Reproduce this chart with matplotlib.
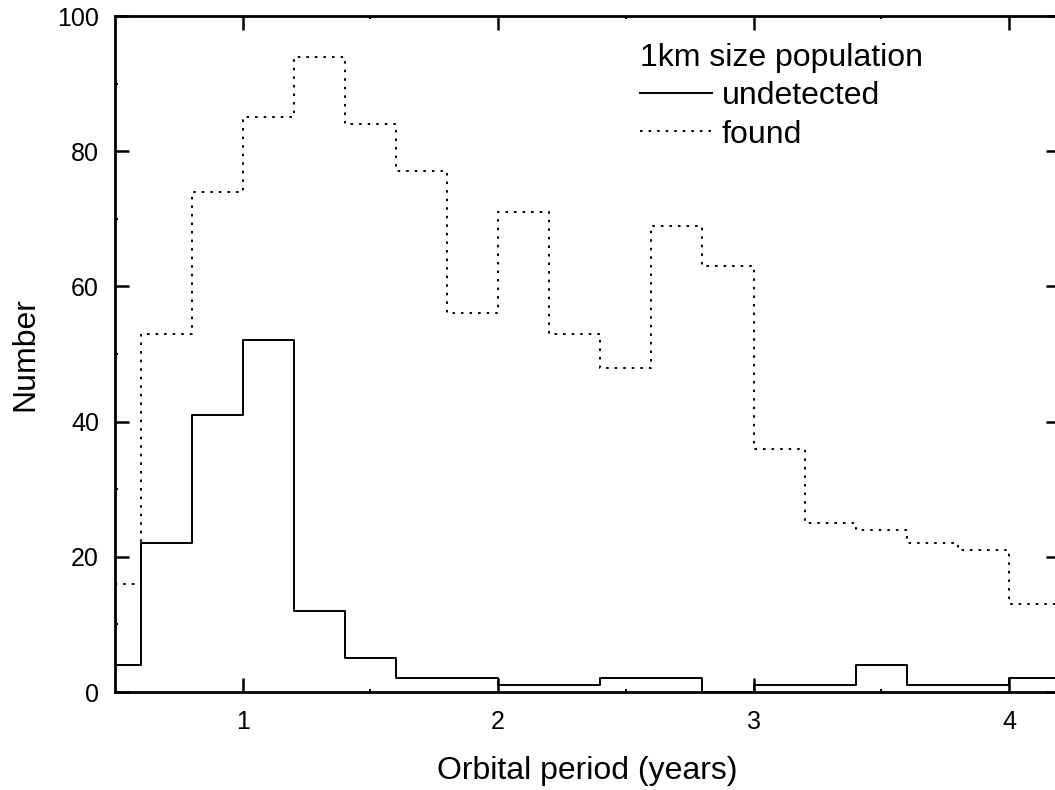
import numpy as np
import matplotlib
matplotlib.use('Agg')
import matplotlib.pyplot as plt

plt.rcParams['font.family'] = ['Liberation Sans', 'DejaVu Sans']

# histogram bin edges (years) and counts per bin
edges = [0.4, 0.6, 0.8, 1.0, 1.2, 1.4, 1.6, 1.8, 2.0, 2.2, 2.4,
         2.6, 2.8, 3.0, 3.2, 3.4, 3.6, 3.8, 4.0, 4.2]
undetected = [4, 22, 41, 52, 12, 5, 2, 2, 1, 1, 2, 2, 0, 1, 1, 4, 1, 1, 2]
found = [16, 53, 74, 85, 94, 84, 77, 56, 71, 53, 48, 69, 63, 36, 25, 24, 22, 21, 13]

xticks = [1, 2, 3, 4]
yticks = [0, 20, 40, 60, 80, 100]

W, H = 1055, 790
fig = plt.figure(figsize=(W / 100, H / 100), dpi=100)
ax = fig.add_axes([115 / W, 1 - 692 / H, 945 / W, 676 / H])

x = np.array(edges)
ax.step(x, np.append(undetected, undetected[-1]), where='post',
        color='k', lw=1.4, label='undetected')
ax.step(x, np.append(found, found[-1]), where='post',
        color='k', lw=1.4, linestyle=(0, (1.3, 3.1)), label='found')

ax.set_xlim(0.5, 4.2)
ax.set_ylim(0, 100)
ax.set_xticks(xticks)
ax.set_xticks([1.5, 2.5, 3.5], minor=True)
ax.set_yticks(yticks)
ax.set_yticks([10, 30, 50, 70, 90], minor=True)

for s in ax.spines.values():
    s.set_linewidth(2.0)
ax.tick_params(which='both', direction='in', top=True, right=True)
ax.tick_params(which='major', length=10, width=1.8, labelsize=18)
ax.tick_params(which='minor', length=2.2, width=1.4)
ax.tick_params(axis='x', which='major', pad=13)
ax.tick_params(axis='y', which='major', pad=11.5)

ax.set_xlabel('Orbital period (years)', fontsize=23, labelpad=16)
ax.set_ylabel('Number', fontsize=23, labelpad=12)

leg = ax.legend(loc='upper left', bbox_to_anchor=(0.5556, 0.960),
                title='1km size population', alignment='left',
                frameon=False, fontsize=23, title_fontsize=23,
                handlelength=2.25, handletextpad=0.3, labelspacing=0.26,
                borderpad=0, borderaxespad=0)

fig.savefig('out.png', dpi=100)
